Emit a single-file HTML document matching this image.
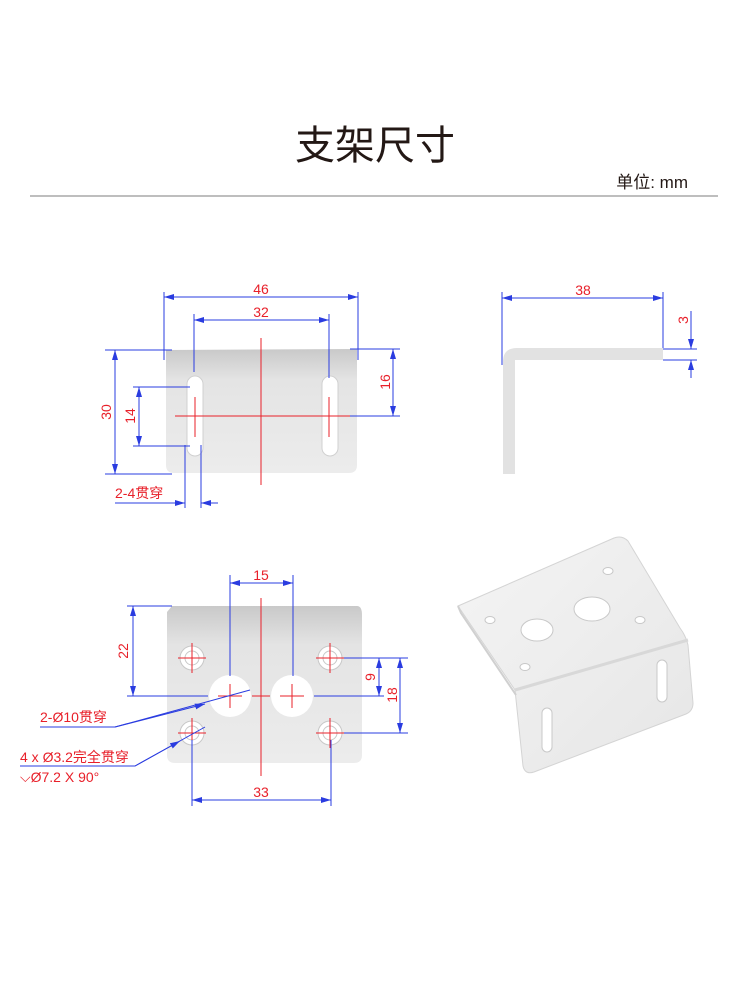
<!DOCTYPE html>
<html><head><meta charset="utf-8"><style>
html,body{margin:0;padding:0;background:#fff;}
svg{display:block;}
text{font-family:"Liberation Sans","Noto Sans CJK SC",sans-serif;}
</style></head><body>
<svg width="750" height="1000" viewBox="0 0 750 1000" xmlns="http://www.w3.org/2000/svg">
<defs>
<linearGradient id="g1" x1="0" y1="0" x2="0" y2="1">
<stop offset="0" stop-color="#c9c9c9"/><stop offset="0.25" stop-color="#e4e4e4"/><stop offset="1" stop-color="#ececec"/>
</linearGradient>
<linearGradient id="g2" x1="0" y1="0" x2="1" y2="1">
<stop offset="0" stop-color="#f4f4f4"/><stop offset="1" stop-color="#e6e6e6"/>
</linearGradient>
<marker id="a" viewBox="0 0 10 6" refX="10" refY="3" markerWidth="10" markerHeight="6" orient="auto-start-reverse" markerUnits="userSpaceOnUse">
<path d="M0,0 L10,3 L0,6 z" fill="#2a3ce0"/></marker>
</defs>

<text x="375" y="159" font-size="40" text-anchor="middle" fill="#231815">支架尺寸</text>
<text x="688" y="188" font-size="17" text-anchor="end" fill="#231815">单位: mm</text>
<line x1="30" y1="196" x2="718" y2="196" stroke="#a9a9a9" stroke-width="1.5"/>

<!-- Top-left view -->
<path d="M166,350 L357,349 L357,465 Q357,473 349,473 L174,473 Q166,473 166,465 Z" fill="url(#g1)"/>
<rect x="187" y="376" width="16" height="80" rx="8" fill="#fff" stroke="#d0d0d0"/>
<rect x="322" y="376" width="16" height="80" rx="8" fill="#fff" stroke="#d0d0d0"/>
<g stroke="#e8202a" stroke-width="1">
<line x1="261" y1="338" x2="261" y2="485"/>
<line x1="175" y1="416" x2="352" y2="416"/>
<line x1="195" y1="397" x2="195" y2="437"/>
<line x1="329" y1="397" x2="329" y2="437"/>
</g>
<g stroke="#2a3ce0" stroke-width="1" fill="none">
<line x1="164" y1="292" x2="164" y2="360"/><line x1="358" y1="292" x2="358" y2="360"/>
<line x1="164" y1="297" x2="358" y2="297" marker-start="url(#a)" marker-end="url(#a)"/>
<line x1="194" y1="314" x2="194" y2="372"/><line x1="329" y1="314" x2="329" y2="378"/>
<line x1="194" y1="320" x2="329" y2="320" marker-start="url(#a)" marker-end="url(#a)"/>
<line x1="105" y1="350" x2="172" y2="350"/><line x1="105" y1="474" x2="172" y2="474"/>
<line x1="115" y1="350" x2="115" y2="474" marker-start="url(#a)" marker-end="url(#a)"/>
<line x1="133" y1="387" x2="190" y2="387"/><line x1="133" y1="446" x2="190" y2="446"/>
<line x1="139" y1="387" x2="139" y2="446" marker-start="url(#a)" marker-end="url(#a)"/>
<line x1="350" y1="349" x2="400" y2="349"/><line x1="350" y1="416" x2="400" y2="416"/>
<line x1="393" y1="349" x2="393" y2="416" marker-start="url(#a)" marker-end="url(#a)"/>
<line x1="185" y1="445" x2="185" y2="508"/><line x1="201" y1="445" x2="201" y2="508"/>
<line x1="115" y1="503" x2="185" y2="503" marker-end="url(#a)"/>
<line x1="218" y1="503" x2="201" y2="503" marker-end="url(#a)"/>
</g>
<g fill="#e8202a" font-size="14" text-anchor="middle">
<text x="261" y="294">46</text>
<text x="261" y="317">32</text>
<text transform="translate(111,412) rotate(-90)">30</text>
<text transform="translate(135,416) rotate(-90)">14</text>
<text transform="translate(390,382) rotate(-90)">16</text>
<text x="115" y="498" text-anchor="start">2-4贯穿</text>
</g>

<!-- Side view -->
<path d="M503,474 L503,362 Q503,348 517,348 L663,348 L663,360 L515,360 L515,474 Z" fill="#e2e2e2"/>
<g stroke="#2a3ce0" stroke-width="1" fill="none">
<line x1="502" y1="292" x2="502" y2="365"/><line x1="663" y1="292" x2="663" y2="348"/>
<line x1="502" y1="298" x2="663" y2="298" marker-start="url(#a)" marker-end="url(#a)"/>
<line x1="663" y1="349" x2="697" y2="349"/><line x1="663" y1="360" x2="697" y2="360"/>
<line x1="691" y1="311" x2="691" y2="349" marker-end="url(#a)"/>
<line x1="691" y1="378" x2="691" y2="360" marker-end="url(#a)"/>
</g>
<text x="583" y="295" fill="#e8202a" font-size="14" text-anchor="middle">38</text>
<text transform="translate(688,320) rotate(-90)" fill="#e8202a" font-size="14" text-anchor="middle">3</text>

<!-- Bottom-left view -->
<path d="M172,606 L357,606 Q362,606 362,615 L362,755 Q362,763 354,763 L175,763 Q167,763 167,755 L167,612 Z" fill="url(#g1)"/>
<g fill="#fff" stroke="#c8c8c8">
<circle cx="230" cy="696" r="21" stroke="none"/><circle cx="292" cy="696" r="21" stroke="none"/>
<circle cx="192" cy="658" r="12"/><circle cx="330" cy="658" r="12"/><circle cx="192" cy="733" r="12"/><circle cx="330" cy="733" r="12"/>
<circle cx="192" cy="658" r="7"/><circle cx="330" cy="658" r="7"/><circle cx="192" cy="733" r="7"/><circle cx="330" cy="733" r="7"/>
</g>
<g stroke="#e8202a" stroke-width="1">
<line x1="261" y1="598" x2="261" y2="776"/>
<line x1="252" y1="696" x2="270" y2="696"/>
<line x1="218" y1="696" x2="242" y2="696"/><line x1="230" y1="684" x2="230" y2="708"/>
<line x1="280" y1="696" x2="304" y2="696"/><line x1="292" y1="684" x2="292" y2="708"/>
<line x1="178" y1="658" x2="206" y2="658"/><line x1="192" y1="643" x2="192" y2="673"/>
<line x1="316" y1="658" x2="344" y2="658"/><line x1="330" y1="643" x2="330" y2="673"/>
<line x1="178" y1="733" x2="206" y2="733"/><line x1="192" y1="718" x2="192" y2="748"/>
<line x1="316" y1="733" x2="344" y2="733"/><line x1="330" y1="718" x2="330" y2="748"/>
</g>
<g stroke="#2a3ce0" stroke-width="1" fill="none">
<line x1="230" y1="575" x2="230" y2="676"/><line x1="293" y1="575" x2="293" y2="676"/>
<line x1="230" y1="583" x2="293" y2="583" marker-start="url(#a)" marker-end="url(#a)"/>
<line x1="127" y1="606" x2="172" y2="606"/><line x1="127" y1="696" x2="208" y2="696"/>
<line x1="133" y1="606" x2="133" y2="696" marker-start="url(#a)" marker-end="url(#a)"/>
<line x1="344" y1="658" x2="408" y2="658"/><line x1="314" y1="696" x2="384" y2="696"/>
<line x1="344" y1="733" x2="408" y2="733"/>
<line x1="379" y1="658" x2="379" y2="696" marker-start="url(#a)" marker-end="url(#a)"/>
<line x1="400" y1="658" x2="400" y2="733" marker-start="url(#a)" marker-end="url(#a)"/>
<line x1="192" y1="740" x2="192" y2="806"/><line x1="331" y1="740" x2="331" y2="806"/>
<line x1="192" y1="800" x2="331" y2="800" marker-start="url(#a)" marker-end="url(#a)"/>
<polyline points="40,727 115,727 250,690"/>
<line x1="115" y1="727" x2="205" y2="704" marker-end="url(#a)"/>
<polyline points="20,766 135,766 205,727"/>
<line x1="135" y1="766" x2="180" y2="741" marker-end="url(#a)"/>
</g>
<g fill="#e8202a" font-size="14" text-anchor="middle">
<text x="261" y="580">15</text>
<text transform="translate(128,651) rotate(-90)">22</text>
<text transform="translate(375,677) rotate(-90)">9</text>
<text transform="translate(397,695) rotate(-90)">18</text>
<text x="261" y="797">33</text>
<text x="40" y="722" text-anchor="start">2-Ø10贯穿</text>
<text x="20" y="762" text-anchor="start">4 x Ø3.2完全贯穿</text>
<text x="20" y="782" text-anchor="start">⌵Ø7.2 X 90°</text>
</g>

<!-- Iso view -->
<path d="M458,606 L614,538 Q622,535 628,541 L680,628 Q686,636 688,645 L693,703 Q693,711 686,714 L534,772 Q525,775 523,766 L515,690 Z" fill="url(#g2)" stroke="#d4d4d4"/>
<path d="M515,690 L688,640" stroke="#d8d8d8" stroke-width="3" fill="none"/>
<path d="M458,606 L461,613 L516,695" stroke="#d0d0d0" stroke-width="2" fill="none"/>
<g fill="#fff" stroke="#c8c8c8">
<ellipse cx="537" cy="630" rx="16" ry="11"/>
<ellipse cx="592" cy="609" rx="18" ry="12"/>
<ellipse cx="490" cy="620" rx="5" ry="3.5"/>
<ellipse cx="525" cy="667" rx="5" ry="3.5"/>
<ellipse cx="640" cy="620" rx="5" ry="3.5"/>
<ellipse cx="608" cy="571" rx="5" ry="3.5"/>
<rect x="542" y="708" width="10" height="44" rx="5"/>
<rect x="657" y="660" width="10" height="42" rx="5"/>
</g>
</svg>
</body></html>
